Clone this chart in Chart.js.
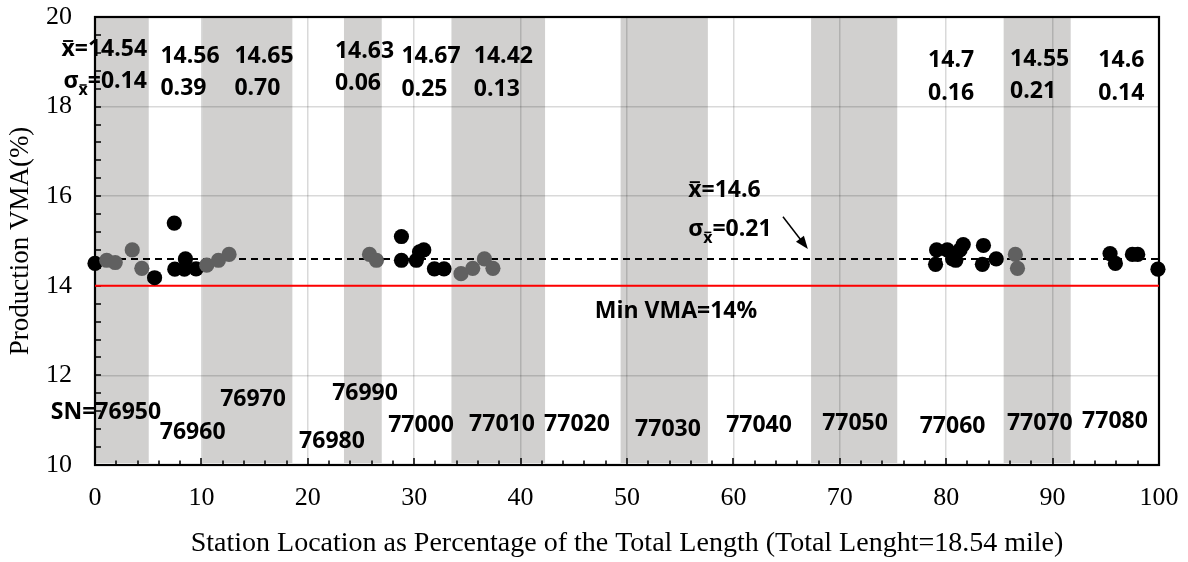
<!DOCTYPE html>
<html>
<head>
<meta charset="utf-8">
<script src="https://cdn.jsdelivr.net/npm/chart.js@4.4.1/dist/chart.umd.min.js"></script>
<style>
    html, body { margin: 0; padding: 0; background: #fff; }
    canvas { display: block; }
</style>
</head>
<body>
<canvas id="myChart" width="1188" height="562"></canvas>
<script>
// station location (% of length) and production VMA (%)
const blackX = [0, 5.6, 7.45, 7.5, 8.4, 8.5, 9.5,
    28.8, 28.8, 30.2, 30.5, 30.9, 31.9, 32.8,
    79.0, 79.1, 80.1, 80.6, 80.9, 81.3, 81.6, 83.4, 83.5, 84.7,
    95.4, 95.9, 97.5, 98.0, 99.9];
const blackY = [14.5, 14.18, 15.4, 14.37, 14.37, 14.6, 14.38,
    15.1, 14.57, 14.57, 14.76, 14.8, 14.38, 14.38,
    14.48, 14.8, 14.8, 14.6, 14.57, 14.8, 14.92, 14.48, 14.9, 14.6,
    14.72, 14.5, 14.7, 14.7, 14.37];
const grayX = [1.1, 1.9, 3.5, 4.4, 10.5, 11.6, 12.6,
    25.8, 26.45, 34.4, 35.5, 36.6, 37.4,
    86.5, 86.7];
const grayY = [14.57, 14.52, 14.8, 14.39, 14.46, 14.57, 14.7,
    14.7, 14.57, 14.27, 14.39, 14.6, 14.39,
    14.7, 14.39];

const meanVMA = 14.6;
const minVMA = 14;

// shaded station sections
const shadeFrom = [0, 10.1, 23.4, 33.5, 49.4, 67.3, 85.4];
const shadeTo = [5.05, 18.55, 26.95, 42.3, 57.6, 75.4, 91.7];

// per-section mean / std labels
const groupMeans = ["14.54", "14.56", "14.65", "14.63", "14.67", "14.42", "14.7", "14.55", "14.6"];
const groupSigmas = ["0.14", "0.39", "0.70", "0.06", "0.25", "0.13", "0.16", "0.21", "0.14"];
const groupX = [-3.15, 6.15, 13.1, 22.55, 28.8, 35.6, 78.3, 86.0, 94.3];
const groupMeanY = [19.31, 19.16, 19.16, 19.26, 19.15, 19.15, 19.06, 19.09, 19.06];
const groupSigmaY = [18.59, 18.44, 18.44, 18.55, 18.42, 18.42, 18.33, 18.37, 18.33];

// station numbers
const stations = ["SN=76950", "76960", "76970", "76980", "76990", "77000", "77010", "77020",
    "77030", "77040", "77050", "77060", "77070", "77080"];
const stationX = [1.03, 9.18, 14.85, 22.27, 25.38, 30.64, 38.25, 45.3,
    53.85, 62.41, 71.43, 80.6, 88.8, 95.86];
const stationY = [11.21, 10.76, 11.5, 10.56, 11.63, 10.92, 10.94, 10.94,
    10.83, 10.92, 10.96, 10.89, 10.96, 11.0];

// overall mean note and arrow
const overallX = 55.75;
const overallMeanY = 16.16;
const overallSigmaY = 15.3;
const arrowFrom = [64.66, 15.54];
const arrowTo = [67.0, 14.82];
const minLabelX = 54.6;
const minLabelY = 13.46;

const annFamily = '"Open Sans"';
const annSize = 23;

const drawXbar = (ctx, x, y, size) => {
    ctx.font = `700 ${size}px ${annFamily}`;
    ctx.fillText("x", x, y);
    const w = ctx.measureText("x").width;
    ctx.fillRect(x + w * 0.12, y - size * 0.7, w * 0.76, Math.max(1.5, size * 0.08));
    return w;
};

const drawMeanText = (ctx, x, y, value) => {
    const w = drawXbar(ctx, x, y, annSize);
    ctx.font = `700 ${annSize}px ${annFamily}`;
    ctx.fillText("=" + value, x + w, y);
};

const drawSigmaText = (ctx, x, y, value) => {
    ctx.font = `700 ${annSize}px ${annFamily}`;
    ctx.fillText("σ", x, y);
    let w = ctx.measureText("σ").width;
    w += drawXbar(ctx, x + w, y + 7, 16);
    ctx.font = `700 ${annSize}px ${annFamily}`;
    ctx.fillText("=" + value, x + w, y);
};

const decor = {
    id: "decor",
    beforeDraw(chart) {
        const ctx = chart.ctx;
        const xs = chart.scales.x;
        const a = chart.chartArea;
        ctx.save();
        ctx.fillStyle = "#d1d0cf";
        shadeFrom.forEach((from, i) => {
            const x1 = xs.getPixelForValue(from);
            const x2 = xs.getPixelForValue(shadeTo[i]);
            ctx.fillRect(x1, a.top, x2 - x1, a.bottom - a.top - 2);
        });
        ctx.restore();
    },
    beforeDatasetsDraw(chart) {
        const ctx = chart.ctx;
        const xs = chart.scales.x;
        const ys = chart.scales.y;
        const a = chart.chartArea;
        ctx.save();
        ctx.strokeStyle = "#000";
        ctx.lineWidth = 1.5;
        ctx.beginPath();
        for (let v = 0; v <= 100; v += 2) {
            const px = Math.round(xs.getPixelForValue(v));
            const len = v % 10 === 0 ? 7 : 4.5;
            ctx.moveTo(px, a.bottom);
            ctx.lineTo(px, a.bottom - len);
        }
        for (let i = 0; i <= 25; i++) {
            const py = Math.round(ys.getPixelForValue(10 + i * 0.4));
            ctx.moveTo(a.left, py);
            ctx.lineTo(a.left + 6, py);
        }
        ctx.stroke();
        ctx.lineWidth = 2.2;
        ctx.strokeRect(a.left, a.top, a.right - a.left, a.bottom - a.top);
        ctx.restore();
    },
    afterDatasetsDraw(chart) {
        const ctx = chart.ctx;
        const xs = chart.scales.x;
        const ys = chart.scales.y;
        const base = annSize * 0.36;
        ctx.save();
        ctx.fillStyle = "#000";
        ctx.textBaseline = "alphabetic";
        ctx.textAlign = "left";

        groupMeans.forEach((m, i) => {
            const x = xs.getPixelForValue(groupX[i]);
            const y1 = ys.getPixelForValue(groupMeanY[i]) + base;
            const y2 = ys.getPixelForValue(groupSigmaY[i]) + base;
            if (i === 0) {
                drawMeanText(ctx, x, y1, m);
                drawSigmaText(ctx, x + 2, y2, groupSigmas[i]);
            } else {
                ctx.font = `700 ${annSize}px ${annFamily}`;
                ctx.fillText(m, x, y1);
                ctx.fillText(groupSigmas[i], x, y2);
            }
        });

        drawMeanText(ctx, xs.getPixelForValue(overallX), ys.getPixelForValue(overallMeanY) + base, String(meanVMA));
        drawSigmaText(ctx, xs.getPixelForValue(overallX), ys.getPixelForValue(overallSigmaY) + base, "0.21");

        ctx.font = `700 ${annSize}px ${annFamily}`;
        ctx.textAlign = "center";
        ctx.fillText("Min VMA=14%", xs.getPixelForValue(minLabelX), ys.getPixelForValue(minLabelY) + base);
        stations.forEach((s, i) => {
            ctx.fillText(s, xs.getPixelForValue(stationX[i]), ys.getPixelForValue(stationY[i]) + base);
        });

        // arrow
        const ax1 = xs.getPixelForValue(arrowFrom[0]);
        const ay1 = ys.getPixelForValue(arrowFrom[1]);
        const ax2 = xs.getPixelForValue(arrowTo[0]);
        const ay2 = ys.getPixelForValue(arrowTo[1]);
        const ang = Math.atan2(ay2 - ay1, ax2 - ax1);
        ctx.strokeStyle = "#000";
        ctx.lineWidth = 1.5;
        ctx.beginPath();
        ctx.moveTo(ax1, ay1);
        ctx.lineTo(ax2 - 8 * Math.cos(ang), ay2 - 8 * Math.sin(ang));
        ctx.stroke();
        ctx.beginPath();
        ctx.moveTo(ax2, ay2);
        ctx.lineTo(ax2 - 13 * Math.cos(ang) + 5 * Math.sin(ang), ay2 - 13 * Math.sin(ang) - 5 * Math.cos(ang));
        ctx.lineTo(ax2 - 13 * Math.cos(ang) - 5 * Math.sin(ang), ay2 - 13 * Math.sin(ang) + 5 * Math.cos(ang));
        ctx.closePath();
        ctx.fill();
        ctx.restore();
    },
};

const toPoints = (xArr, yArr) => xArr.map((x, i) => ({ x: x, y: yArr[i] }));

const ctx = document.getElementById("myChart");
const myChart = new Chart(ctx, {
    type: "scatter",
    data: {
        datasets: [
            {
                label: "gray",
                data: toPoints(grayX, grayY),
                backgroundColor: "#606060",
                borderWidth: 0,
                pointRadius: 7.6,
                clip: false,
            },
            {
                label: "black",
                data: toPoints(blackX, blackY),
                backgroundColor: "#000",
                borderWidth: 0,
                pointRadius: 7.6,
                clip: false,
            },
            {
                type: "line",
                label: "mean",
                data: [{ x: 0, y: meanVMA }, { x: 100, y: meanVMA }],
                borderColor: "#000",
                borderWidth: 2,
                borderDash: [7, 5],
                pointRadius: 0,
            },
            {
                type: "line",
                label: "min",
                data: [{ x: 0, y: minVMA }, { x: 100, y: minVMA }],
                borderColor: "#ff0000",
                borderWidth: 2,
                pointRadius: 0,
            },
        ],
    },
    options: {
        responsive: false,
        animation: false,
        layout: { padding: { top: 17, right: 29, left: 0, bottom: 0 } },
        plugins: { legend: { display: false }, tooltip: { enabled: false } },
        scales: {
            x: {
                type: "linear",
                min: 0,
                max: 100,
                afterFit: (scale) => {
                    scale.height = 97;
                    scale.paddingLeft = 0;
                    scale.paddingRight = 0;
                },
                ticks: { stepSize: 10, padding: 18, color: "#000", font: { family: "Liberation Serif", size: 26 } },
                grid: { color: "rgba(0,0,0,0.15)", lineWidth: 1.5, drawTicks: false },
                border: { display: false },
                title: {
                    display: true,
                    text: "Station Location as Percentage of the Total Length (Total Lenght=18.54 mile)",
                    color: "#000",
                    font: { family: "Liberation Serif", size: 28 },
                    padding: { top: 0, bottom: 2 },
                },
            },
            y: {
                min: 10,
                max: 20,
                afterFit: (scale) => {
                    scale.width = 95;
                    scale.paddingTop = 0;
                    scale.paddingBottom = 0;
                },
                ticks: { stepSize: 2, padding: 23, color: "#000", font: { family: "Liberation Serif", size: 26 } },
                grid: { color: "rgba(0,0,0,0.15)", lineWidth: 1.5, drawTicks: false },
                border: { display: false },
                title: {
                    display: true,
                    text: "Production VMA(%)",
                    color: "#000",
                    font: { family: "Liberation Serif", size: 27 },
                    padding: { top: 5, bottom: 0 },
                },
            },
        },
    },
    plugins: [decor],
});
</script>
</body>
</html>
